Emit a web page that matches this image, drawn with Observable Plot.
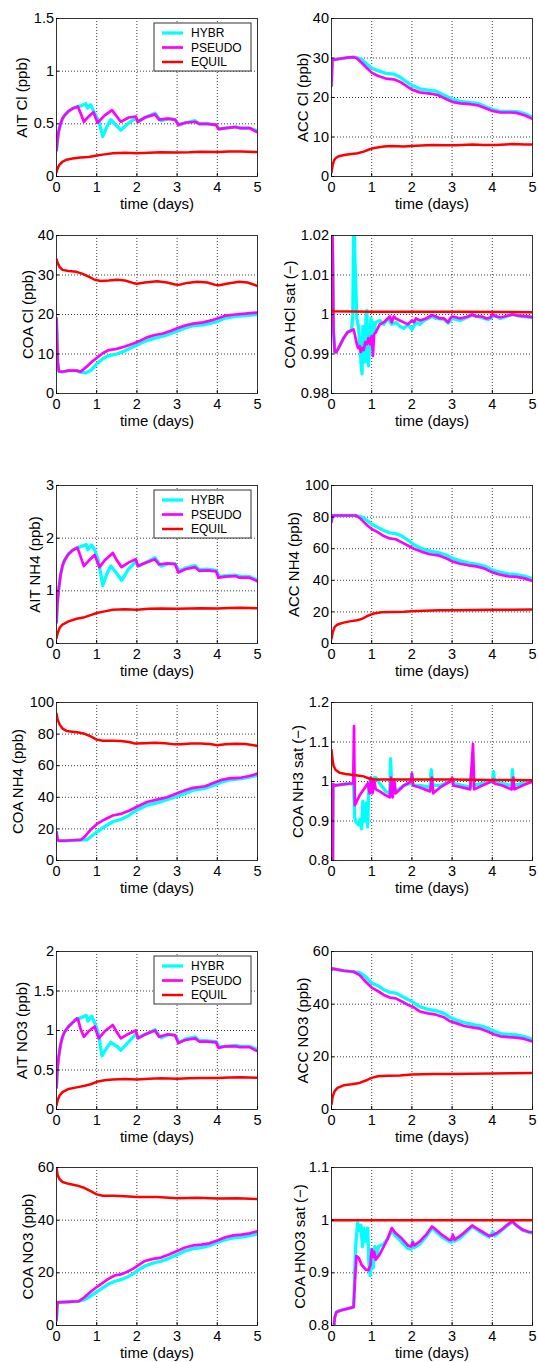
<!DOCTYPE html>
<html><head><meta charset="utf-8">
<script src="https://cdn.jsdelivr.net/npm/d3@7"></script>
<script src="https://cdn.jsdelivr.net/npm/@observablehq/plot@0.6"></script>
<style>
html,body{margin:0;padding:0;background:#fff;}
#wrap{position:relative;width:538px;height:1362px;overflow:hidden;background:#fff;}
#wrap > div.panel{position:absolute;}
#wrap > svg.legend{position:absolute;}
</style></head>
<body><div id="wrap"></div>
<script>
// ---------- series names / ticks ----------
const seriesNames = ["HYBR", "PSEUDO", "EQUIL"];
const timeTicks = [0, 1, 2, 3, 4, 5];

// ---------- AIT Cl (ppb) ----------
const aitClTicks = [0, 0.5, 1, 1.5];
const aitClHybr = [[0,0.25],[0.02,0.33],[0.05,0.42],[0.1,0.5],[0.15,0.55],[0.2,0.58],[0.3,0.62],[0.4,0.645],[0.5,0.66],[0.6,0.67],[0.73,0.69],[0.77,0.65],[0.85,0.68],[0.95,0.6],[1.05,0.53],[1.15,0.38],[1.25,0.47],[1.35,0.54],[1.5,0.48],[1.6,0.44],[1.8,0.51],[1.97,0.555],[2.03,0.52],[2.2,0.56],[2.45,0.6],[2.6,0.53],[2.8,0.55],[2.95,0.54],[3.05,0.49],[3.2,0.51],[3.45,0.53],[3.55,0.5],[3.75,0.5],[3.97,0.49],[4.05,0.45],[4.2,0.46],[4.45,0.47],[4.6,0.46],[4.8,0.46],[4.95,0.44],[5,0.43]];
const aitClPseudo = [[0,0.25],[0.02,0.33],[0.05,0.42],[0.1,0.5],[0.15,0.55],[0.2,0.58],[0.3,0.62],[0.4,0.645],[0.5,0.66],[0.53,0.665],[0.6,0.6],[0.68,0.52],[0.8,0.57],[0.92,0.61],[1.02,0.51],[1.2,0.58],[1.38,0.63],[1.5,0.57],[1.6,0.52],[1.8,0.56],[1.97,0.57],[2.02,0.52],[2.2,0.56],[2.45,0.59],[2.55,0.54],[2.75,0.55],[2.95,0.54],[3.03,0.49],[3.2,0.51],[3.45,0.52],[3.55,0.5],[3.75,0.5],[3.97,0.49],[4.03,0.45],[4.2,0.46],[4.45,0.47],[4.55,0.46],[4.8,0.46],[4.95,0.43],[5,0.42]];
const aitClEquil = [[0,0.04],[0.03,0.08],[0.07,0.11],[0.15,0.14],[0.25,0.16],[0.4,0.17],[0.6,0.18],[0.8,0.185],[1.0,0.2],[1.2,0.21],[1.4,0.22],[1.7,0.225],[2.0,0.22],[2.3,0.225],[2.6,0.23],[3.0,0.228],[3.3,0.23],[3.6,0.235],[4.0,0.232],[4.3,0.237],[4.6,0.238],[5,0.232]];

// ---------- ACC Cl (ppb) ----------
const accClTicks = [0, 10, 20, 30, 40];
const accClHybr = [[0,23],[0.02,29.5],[0.2,29.8],[0.4,30.1],[0.55,30.2],[0.62,30.1],[0.75,29.6],[0.9,28.3],[1.0,27.4],[1.15,26.8],[1.35,26.1],[1.55,25.9],[1.7,25.2],[1.85,24.1],[2.0,23.1],[2.2,22.2],[2.45,21.8],[2.6,21.6],[2.8,20.6],[3.0,19.6],[3.2,19],[3.45,18.7],[3.65,18.5],[3.85,17.6],[4.0,17],[4.2,16.5],[4.45,16.5],[4.6,16.4],[4.8,15.9],[5,15.1]];
const accClPseudo = [[0,23],[0.02,29.5],[0.2,29.8],[0.4,30.1],[0.55,30.2],[0.62,30],[0.75,28.8],[0.9,27.3],[1.0,26.3],[1.15,25.5],[1.35,24.8],[1.55,24.6],[1.7,24],[1.85,23],[2.0,22],[2.2,21.3],[2.45,21],[2.65,20.6],[2.85,19.6],[3.0,18.9],[3.2,18.5],[3.45,18.3],[3.65,18],[3.85,17.2],[4.0,16.6],[4.2,16.2],[4.45,16.2],[4.6,16.1],[4.8,15.5],[5,14.6]];
const accClEquil = [[0,1],[0.03,3],[0.07,4.2],[0.12,4.8],[0.2,5.2],[0.35,5.5],[0.5,5.7],[0.65,5.9],[0.8,6.3],[0.95,6.9],[1.1,7.3],[1.3,7.6],[1.5,7.7],[1.8,7.6],[2.1,7.8],[2.5,8.0],[2.8,7.9],[3.1,7.9],[3.5,8.1],[3.8,8.0],[4.1,8.0],[4.5,8.2],[4.8,8.1],[5,8.1]];

// ---------- COA Cl (ppb) ----------
const coaClTicks = [0, 10, 20, 30, 40];
const coaClHybr = [[0,19],[0.03,8],[0.06,5.6],[0.15,5.5],[0.3,5.8],[0.5,5.8],[0.6,5.4],[0.72,5.2],[0.85,5.8],[1.0,7.5],[1.15,8.8],[1.3,9.6],[1.5,10],[1.7,10.8],[1.9,11.8],[2.05,12.5],[2.25,13.4],[2.45,14],[2.65,14.5],[2.85,15.2],[3.0,15.8],[3.2,16.6],[3.4,17.2],[3.65,17.4],[3.85,17.8],[4.0,18.2],[4.2,19.1],[4.45,19.5],[4.7,19.7],[5,20]];
const coaClPseudo = [[0,19],[0.03,8],[0.06,5.6],[0.15,5.5],[0.3,5.8],[0.5,5.8],[0.6,5.5],[0.75,6.8],[0.9,8.2],[1.0,9],[1.15,10.2],[1.3,11],[1.5,11.3],[1.7,11.9],[1.9,12.6],[2.05,13.2],[2.25,14.2],[2.45,14.8],[2.65,15.2],[2.85,15.9],[3.0,16.5],[3.2,17.2],[3.4,17.7],[3.65,18],[3.85,18.5],[4.0,19],[4.2,19.7],[4.45,20],[4.7,20.2],[5,20.5]];
const coaClEquil = [[0,34],[0.03,33],[0.08,32],[0.15,31.3],[0.3,31],[0.5,30.8],[0.65,30.3],[0.8,29.6],[0.95,28.8],[1.1,28.5],[1.3,28.6],[1.5,28.8],[1.7,28.6],[1.9,28],[2.0,27.8],[2.2,28.1],[2.5,28.4],[2.75,28.1],[2.95,27.6],[3.05,27.5],[3.25,28],[3.5,28.3],[3.75,28.1],[3.95,27.5],[4.05,27.4],[4.3,27.9],[4.55,28.3],[4.75,28.1],[4.9,27.6],[5,27.2]];

// ---------- COA HCl sat (-) ----------
const coaHclTicks = [0.98, 0.99, 1, 1.01, 1.02];
const coaHclHybr = [[0,1.03],[0.03,1.016],[0.05,0.996],[0.08,0.9905],[0.12,0.9905],[0.2,0.992],[0.3,0.994],[0.4,0.9955],[0.5,0.996],[0.53,1.0],[0.56,1.03],[0.58,1.015],[0.61,1.005],[0.63,0.999],[0.67,0.997],[0.7,0.993],[0.74,0.987],[0.76,0.985],[0.78,0.997],[0.8,0.991],[0.83,0.988],[0.86,1.0],[0.88,1.001],[0.9,0.989],[0.92,0.987],[0.95,0.993],[0.98,0.999],[1.0,0.994],[1.03,0.998],[1.06,0.996],[1.1,0.998],[1.2,0.9985],[1.3,0.9975],[1.4,0.999],[1.5,0.9975],[1.6,0.998],[1.7,0.997],[1.8,0.9965],[1.9,0.9975],[2.0,0.9962],[2.1,0.998],[2.2,0.9975],[2.3,0.9985],[2.5,0.9995],[2.6,0.999],[2.8,0.9988],[2.9,0.9978],[3.0,0.999],[3.2,0.9985],[3.5,0.9998],[3.7,0.9993],[3.9,0.9987],[4.05,0.9998],[4.2,0.999],[4.5,1.0],[4.7,0.9995],[5,0.9993]];
const coaHclPseudo = [[0,1.03],[0.03,1.016],[0.05,0.996],[0.08,0.9905],[0.12,0.9905],[0.2,0.992],[0.3,0.994],[0.4,0.9955],[0.5,0.996],[0.55,0.9962],[0.6,0.994],[0.62,0.993],[0.66,0.9915],[0.7,0.992],[0.73,0.9905],[0.76,0.9915],[0.8,0.991],[0.84,0.993],[0.88,0.9925],[0.92,0.994],[0.96,0.9925],[1.0,0.9945],[1.03,0.9895],[1.06,0.995],[1.1,0.9955],[1.2,0.9975],[1.3,0.998],[1.4,0.999],[1.45,0.9995],[1.5,0.998],[1.55,0.9995],[1.6,0.999],[1.7,0.9985],[1.8,0.998],[1.9,0.9975],[2.0,0.9985],[2.05,0.998],[2.1,0.999],[2.2,0.9985],[2.35,0.999],[2.5,0.9998],[2.6,0.9995],[2.7,0.999],[2.8,0.999],[2.9,0.998],[2.95,0.999],[3.0,0.9995],[3.1,0.9993],[3.2,0.999],[3.4,0.9995],[3.5,1.0],[3.6,0.9995],[3.75,0.9995],[3.85,0.999],[3.95,0.9992],[4.0,1.0],[4.1,0.9995],[4.2,0.9993],[4.3,0.9995],[4.5,1.0],[4.6,0.9998],[4.8,0.9996],[5,0.9993]];
const coaHclEquil = [[0,1.0012],[0.05,1.0008],[1,1.0007],[3,1.0007],[5,1.0006]];

// ---------- AIT NH4 (ppb) ----------
const aitNh4Ticks = [0, 1, 2, 3];
const aitNh4Hybr = [[0,0.4],[0.02,0.75],[0.05,1.0],[0.1,1.3],[0.15,1.48],[0.2,1.58],[0.3,1.7],[0.4,1.77],[0.52,1.82],[0.6,1.84],[0.74,1.88],[0.78,1.78],[0.87,1.87],[0.95,1.78],[1.05,1.55],[1.15,1.1],[1.25,1.32],[1.35,1.47],[1.5,1.33],[1.62,1.2],[1.8,1.42],[1.97,1.55],[2.03,1.47],[2.2,1.53],[2.45,1.63],[2.6,1.47],[2.8,1.52],[2.95,1.51],[3.05,1.38],[3.2,1.43],[3.45,1.48],[3.55,1.4],[3.75,1.41],[3.97,1.39],[4.05,1.27],[4.2,1.29],[4.45,1.3],[4.6,1.27],[4.8,1.27],[4.95,1.22],[5,1.2]];
const aitNh4Pseudo = [[0,0.4],[0.02,0.75],[0.05,1.0],[0.1,1.3],[0.15,1.48],[0.2,1.58],[0.3,1.7],[0.4,1.77],[0.52,1.82],[0.6,1.65],[0.68,1.47],[0.8,1.57],[0.95,1.68],[1.07,1.45],[1.2,1.58],[1.4,1.72],[1.5,1.58],[1.62,1.45],[1.8,1.54],[1.97,1.6],[2.03,1.47],[2.2,1.53],[2.45,1.6],[2.55,1.5],[2.75,1.52],[2.95,1.51],[3.03,1.35],[3.2,1.41],[3.45,1.45],[3.55,1.38],[3.75,1.39],[3.97,1.37],[4.03,1.25],[4.2,1.27],[4.45,1.28],[4.55,1.25],[4.8,1.25],[4.95,1.2],[5,1.18]];
const aitNh4Equil = [[0,0.1],[0.03,0.2],[0.08,0.3],[0.15,0.36],[0.3,0.42],[0.5,0.47],[0.7,0.5],[0.85,0.54],[1.0,0.58],[1.2,0.61],[1.4,0.64],[1.7,0.65],[2.0,0.64],[2.3,0.66],[2.6,0.665],[3.0,0.66],[3.3,0.665],[3.6,0.67],[4.0,0.665],[4.3,0.675],[4.6,0.68],[5,0.67]];

// ---------- ACC NH4 (ppb) ----------
const accNh4Ticks = [0, 20, 40, 60, 80, 100];
const accNh4Hybr = [[0,77],[0.02,81],[0.3,81],[0.6,81],[0.7,80.5],[0.8,79.5],[0.9,77.5],[1.0,75.5],[1.15,73.5],[1.3,71.5],[1.45,70],[1.6,69.5],[1.75,68],[1.9,65.5],[2.05,62.5],[2.25,60],[2.45,58.5],[2.65,57.5],[2.85,56],[3.0,54],[3.2,52.3],[3.4,51],[3.6,50.3],[3.8,49],[4.0,46.5],[4.2,45],[4.4,44],[4.6,43.6],[4.8,42.6],[5,41]];
const accNh4Pseudo = [[0,77],[0.02,81],[0.3,81],[0.6,81],[0.7,79.5],[0.8,77],[0.9,74.5],[1.0,72.5],[1.15,70.5],[1.3,68],[1.45,66.5],[1.6,66],[1.75,64],[1.9,62],[2.05,60],[2.25,58],[2.45,56.5],[2.65,55.8],[2.85,54],[3.0,52],[3.2,50.5],[3.4,49.5],[3.6,48.8],[3.8,47.5],[4.0,45],[4.2,43.5],[4.4,42.5],[4.6,42.2],[4.8,41.2],[5,39.5]];
const accNh4Equil = [[0,3],[0.03,7],[0.08,10.5],[0.15,12],[0.3,13.2],[0.45,14],[0.6,14.5],[0.75,15.5],[0.9,17.5],[1.05,19],[1.25,19.8],[1.5,20],[1.8,20.1],[2.0,20.4],[2.3,20.8],[2.7,21],[3.0,21],[3.5,21.2],[4.0,21.3],[4.5,21.4],[5,21.5]];

// ---------- COA NH4 (ppb) ----------
const coaNh4Ticks = [0, 20, 40, 60, 80, 100];
const coaNh4Hybr = [[0,18],[0.02,14],[0.05,12.5],[0.2,12.5],[0.4,12.8],[0.6,13],[0.75,13],[0.9,16],[1.0,18],[1.2,21.5],[1.4,24.5],[1.6,26],[1.8,28.5],[2.0,32],[2.25,35],[2.5,36.5],[2.75,38.5],[3.0,40.7],[3.2,42.5],[3.4,44.5],[3.7,45.7],[3.9,47.5],[4.1,49.5],[4.3,51],[4.6,51.8],[4.8,52.7],[5,54]];
const coaNh4Pseudo = [[0,18],[0.02,14],[0.05,12.5],[0.2,12.5],[0.4,12.8],[0.6,13],[0.7,15],[0.85,19.5],[1.0,23],[1.2,26],[1.4,28.5],[1.6,29.5],[1.8,31.5],[2.0,34],[2.25,37],[2.5,38.5],[2.75,40],[3.0,42.5],[3.2,44.5],[3.4,46],[3.7,47],[3.9,49],[4.1,51],[4.3,52],[4.6,52.5],[4.8,53.5],[5,55]];
const coaNh4Equil = [[0,93],[0.03,89],[0.08,86],[0.15,83.5],[0.25,82],[0.4,81.5],[0.55,81],[0.7,80.2],[0.85,78.5],[1.0,76.5],[1.15,75.8],[1.4,75.8],[1.6,75.6],[1.8,75],[1.95,74],[2.2,74.2],[2.45,74.5],[2.7,74.2],[2.95,73.5],[3.1,73.6],[3.35,74],[3.6,74],[3.85,73.6],[4.0,73],[4.2,73.6],[4.45,73.9],[4.7,73.7],[4.9,73],[5,72.5]];

// ---------- COA NH3 sat (-) ----------
const coaNh3Ticks = [0.8, 0.9, 1, 1.1, 1.2];
const coaNh3Hybr = [[0,0.75],[0.03,0.75],[0.04,0.993],[0.1,0.99],[0.3,0.993],[0.5,0.995],[0.55,0.99],[0.58,0.905],[0.63,0.895],[0.68,0.89],[0.72,0.905],[0.75,0.88],[0.78,0.95],[0.82,0.9],[0.86,0.945],[0.9,0.885],[0.93,0.99],[0.97,1.01],[1.02,0.985],[1.06,1.01],[1.1,1.01],[1.2,0.995],[1.35,0.975],[1.45,0.97],[1.47,1.058],[1.5,0.975],[1.55,0.97],[1.6,0.975],[1.8,0.99],[1.98,0.995],[2.0,1.02],[2.03,0.99],[2.2,0.99],[2.45,0.985],[2.48,1.03],[2.52,0.99],[2.7,0.99],[2.95,1.0],[3.0,1.005],[3.03,0.995],[3.25,0.99],[3.45,0.985],[3.49,1.033],[3.52,0.99],[3.75,0.995],[4.0,1.0],[4.03,1.025],[4.06,1.0],[4.25,0.995],[4.48,0.99],[4.5,1.03],[4.53,0.99],[4.75,0.995],[5,1.0]];
const coaNh3Pseudo = [[0,0.75],[0.03,0.75],[0.04,0.993],[0.1,0.99],[0.3,0.993],[0.5,0.995],[0.54,0.995],[0.56,1.14],[0.58,0.94],[0.63,0.95],[0.7,0.965],[0.8,0.98],[0.9,0.995],[0.95,0.97],[0.98,1.01],[1.02,0.97],[1.06,1.005],[1.1,0.98],[1.2,0.975],[1.35,0.965],[1.45,0.96],[1.48,1.01],[1.52,0.96],[1.56,1.005],[1.6,0.97],[1.8,0.99],[1.98,1.0],[2.0,1.02],[2.03,0.99],[2.2,0.985],[2.45,0.975],[2.5,1.01],[2.53,0.97],[2.7,0.985],[2.95,1.0],[3.0,1.01],[3.03,0.99],[3.25,0.985],[3.45,0.98],[3.52,1.095],[3.55,0.98],[3.75,0.99],[3.98,1.0],[4.02,1.005],[4.05,0.995],[4.25,0.99],[4.48,0.98],[4.52,1.01],[4.55,0.98],[4.75,0.99],[5,1.0]];
const coaNh3Equil = [[0,1.08],[0.02,1.06],[0.05,1.04],[0.1,1.03],[0.2,1.022],[0.35,1.019],[0.6,1.016],[0.8,1.013],[0.95,1.007],[1.1,1.005],[2,1.005],[3,1.005],[4,1.004],[5,1.003]];

// ---------- AIT NO3 (ppb) ----------
const aitNo3Ticks = [0, 0.5, 1, 1.5, 2];
const aitNo3Hybr = [[0,0.28],[0.02,0.5],[0.05,0.65],[0.1,0.82],[0.15,0.92],[0.2,0.98],[0.3,1.05],[0.4,1.1],[0.5,1.15],[0.53,1.15],[0.6,1.16],[0.74,1.19],[0.78,1.12],[0.87,1.18],[0.95,1.1],[1.05,0.95],[1.13,0.68],[1.25,0.78],[1.35,0.85],[1.5,0.8],[1.6,0.75],[1.8,0.86],[1.97,0.95],[2.03,0.91],[2.2,0.95],[2.45,1.01],[2.6,0.91],[2.8,0.95],[2.95,0.94],[3.05,0.85],[3.2,0.89],[3.45,0.92],[3.55,0.87],[3.75,0.87],[3.97,0.86],[4.05,0.79],[4.2,0.8],[4.45,0.81],[4.6,0.8],[4.8,0.8],[4.95,0.77],[5,0.76]];
const aitNo3Pseudo = [[0,0.28],[0.02,0.5],[0.05,0.65],[0.1,0.82],[0.15,0.92],[0.2,0.98],[0.3,1.05],[0.4,1.1],[0.5,1.15],[0.53,1.15],[0.6,1.02],[0.68,0.92],[0.8,0.99],[0.95,1.05],[1.05,0.9],[1.2,0.99],[1.4,1.07],[1.5,0.98],[1.6,0.9],[1.8,0.96],[1.97,1.0],[2.03,0.9],[2.2,0.95],[2.45,1.0],[2.55,0.92],[2.75,0.95],[2.95,0.94],[3.03,0.84],[3.2,0.88],[3.45,0.9],[3.55,0.86],[3.75,0.86],[3.97,0.85],[4.03,0.78],[4.2,0.8],[4.45,0.8],[4.55,0.79],[4.8,0.79],[4.95,0.75],[5,0.74]];
const aitNo3Equil = [[0,0.05],[0.03,0.12],[0.08,0.18],[0.15,0.22],[0.3,0.26],[0.5,0.28],[0.7,0.3],[0.85,0.32],[1.0,0.35],[1.2,0.37],[1.4,0.38],[1.7,0.385],[2.0,0.38],[2.3,0.39],[2.6,0.395],[3.0,0.39],[3.3,0.395],[3.6,0.4],[4.0,0.398],[4.3,0.405],[4.6,0.408],[5,0.402]];

// ---------- ACC NO3 (ppb) ----------
const accNo3Ticks = [0, 20, 40, 60];
const accNo3Hybr = [[0,53],[0.02,53.5],[0.3,52.7],[0.55,52.3],[0.7,52],[0.85,50.5],[1.0,48],[1.15,47],[1.3,45.5],[1.45,44.5],[1.6,44.2],[1.75,43],[1.9,41.8],[2.05,40.5],[2.2,39],[2.4,38],[2.6,37.5],[2.8,36.5],[2.95,35],[3.1,34],[3.3,33],[3.5,32.3],[3.7,31.8],[3.9,30.8],[4.05,29.7],[4.2,28.8],[4.4,28.5],[4.6,28.3],[4.8,27.7],[5,26.6]];
const accNo3Pseudo = [[0,53],[0.02,53.5],[0.3,52.7],[0.55,52.3],[0.7,51],[0.85,48.5],[1.0,46.3],[1.15,45],[1.3,43.5],[1.45,42.5],[1.6,42.2],[1.75,41],[1.9,39.8],[2.05,38.8],[2.2,37.2],[2.4,36.5],[2.6,36],[2.8,35],[2.95,33.5],[3.1,32.8],[3.3,31.7],[3.5,31.2],[3.7,30.7],[3.9,29.5],[4.05,28.5],[4.2,27.8],[4.4,27.5],[4.6,27.3],[4.8,26.8],[5,25.8]];
const accNo3Equil = [[0,2],[0.03,5],[0.08,7],[0.15,8.2],[0.3,9.2],[0.5,9.6],[0.7,10.1],[0.85,11],[1.0,12],[1.15,12.6],[1.4,12.8],[1.7,12.9],[2.0,13.3],[2.5,13.5],[3,13.5],[3.5,13.6],[4,13.7],[4.5,13.8],[5,13.9]];

// ---------- COA NO3 (ppb) ----------
const coaNo3Ticks = [0, 20, 40, 60];
const coaNo3Hybr = [[0,2],[0.02,8.8],[0.3,9],[0.55,9.2],[0.7,9.8],[0.85,11.2],[1.0,12.8],[1.15,14.3],[1.3,15.8],[1.45,16.8],[1.6,17.4],[1.75,18.3],[1.9,19.6],[2.05,21.2],[2.2,22.6],[2.4,23.7],[2.6,24.4],[2.8,25.5],[3.0,26.9],[3.2,28.3],[3.4,29.2],[3.6,29.6],[3.8,30.3],[4.0,31.5],[4.2,32.6],[4.4,33.3],[4.6,33.6],[4.8,34.1],[5,34.8]];
const coaNo3Pseudo = [[0,2],[0.02,8.8],[0.3,9],[0.55,9.2],[0.7,10.8],[0.85,12.8],[1.0,14.6],[1.15,16.2],[1.3,17.8],[1.45,19],[1.6,19.4],[1.75,20.3],[1.9,21.5],[2.05,23],[2.2,24.5],[2.4,25.3],[2.6,25.8],[2.8,27],[3.0,28.3],[3.2,29.6],[3.4,30.4],[3.6,30.7],[3.8,31.2],[4.0,32.3],[4.2,33.5],[4.4,34.2],[4.6,34.5],[4.8,35],[5,35.8]];
const coaNo3Equil = [[0,60],[0.03,57],[0.08,55.5],[0.15,54.5],[0.3,53.8],[0.5,53.2],[0.7,52.2],[0.85,51],[1.0,49.8],[1.15,49.3],[1.4,49.3],[1.7,49.1],[2.0,48.8],[2.5,48.8],[2.8,48.5],[3.0,48.3],[3.5,48.5],[4.0,48.2],[4.5,48.3],[5,48]];

// ---------- COA HNO3 sat (-) ----------
const coaHno3Ticks = [0.8, 0.9, 1, 1.1];
const coaHno3Hybr = [[0.05,0.79],[0.08,0.815],[0.12,0.825],[0.2,0.828],[0.35,0.831],[0.5,0.834],[0.55,0.835],[0.6,0.95],[0.65,0.995],[0.7,0.98],[0.73,0.99],[0.77,0.95],[0.8,0.985],[0.84,0.96],[0.9,0.985],[0.93,0.92],[0.96,0.895],[1.0,0.925],[1.04,0.91],[1.08,0.95],[1.12,0.93],[1.17,0.95],[1.3,0.955],[1.4,0.965],[1.5,0.98],[1.6,0.97],[1.75,0.958],[1.9,0.946],[1.98,0.945],[2.02,0.96],[2.06,0.948],[2.2,0.955],[2.35,0.968],[2.5,0.985],[2.6,0.978],[2.75,0.968],[2.92,0.96],[2.98,0.958],[3.02,0.966],[3.06,0.96],[3.2,0.966],[3.35,0.977],[3.5,0.988],[3.6,0.983],[3.75,0.975],[3.92,0.968],[4.02,0.978],[4.06,0.97],[4.25,0.982],[4.35,0.988],[4.5,0.997],[4.6,0.99],[4.75,0.981],[4.9,0.977],[5,0.976]];
const coaHno3Pseudo = [[0.05,0.79],[0.08,0.815],[0.12,0.825],[0.2,0.828],[0.35,0.831],[0.5,0.834],[0.55,0.835],[0.58,0.88],[0.62,0.932],[0.68,0.928],[0.75,0.915],[0.85,0.906],[0.92,0.905],[0.97,0.915],[1.0,0.945],[1.03,0.93],[1.06,0.94],[1.1,0.925],[1.2,0.935],[1.3,0.95],[1.4,0.965],[1.5,0.985],[1.6,0.975],[1.75,0.965],[1.9,0.952],[1.98,0.95],[2.02,0.958],[2.06,0.952],[2.2,0.96],[2.35,0.972],[2.5,0.988],[2.6,0.982],[2.75,0.972],[2.92,0.963],[2.98,0.962],[3.02,0.972],[3.06,0.963],[3.2,0.97],[3.35,0.98],[3.5,0.99],[3.6,0.985],[3.75,0.978],[3.92,0.97],[4.02,0.972],[4.1,0.975],[4.25,0.983],[4.35,0.99],[4.5,0.998],[4.6,0.99],[4.75,0.982],[4.9,0.978],[5,0.977]];
const coaHno3Equil = [[0,1.0],[5,1.0]];

// ---------- panel table (built from the arrays above) ----------
const panels = [
  {label: "AIT Cl (ppb)",      ticks: aitClTicks,   series: [aitClHybr, aitClPseudo, aitClEquil], legend: true},
  {label: "ACC Cl (ppb)",      ticks: accClTicks,   series: [accClHybr, accClPseudo, accClEquil]},
  {label: "COA Cl (ppb)",      ticks: coaClTicks,   series: [coaClHybr, coaClPseudo, coaClEquil]},
  {label: "COA HCl sat (\u2212)", ticks: coaHclTicks, series: [coaHclHybr, coaHclPseudo, coaHclEquil]},
  {label: "AIT NH4 (ppb)",     ticks: aitNh4Ticks,  series: [aitNh4Hybr, aitNh4Pseudo, aitNh4Equil], legend: true},
  {label: "ACC NH4 (ppb)",     ticks: accNh4Ticks,  series: [accNh4Hybr, accNh4Pseudo, accNh4Equil]},
  {label: "COA NH4 (ppb)",     ticks: coaNh4Ticks,  series: [coaNh4Hybr, coaNh4Pseudo, coaNh4Equil]},
  {label: "COA NH3 sat (\u2212)", ticks: coaNh3Ticks, series: [coaNh3Hybr, coaNh3Pseudo, coaNh3Equil]},
  {label: "AIT NO3 (ppb)",     ticks: aitNo3Ticks,  series: [aitNo3Hybr, aitNo3Pseudo, aitNo3Equil], legend: true},
  {label: "ACC NO3 (ppb)",     ticks: accNo3Ticks,  series: [accNo3Hybr, accNo3Pseudo, accNo3Equil]},
  {label: "COA NO3 (ppb)",     ticks: coaNo3Ticks,  series: [coaNo3Hybr, coaNo3Pseudo, coaNo3Equil]},
  {label: "COA HNO3 sat (\u2212)", ticks: coaHno3Ticks, series: [coaHno3Hybr, coaHno3Pseudo, coaHno3Equil]}
];

// ---------- layout & style ----------
const FONT = '"Liberation Sans", Arial, Helvetica, sans-serif';
const colors = ["#00ffff", "#ff00ff", "#ff0000"];
const widths = [3.3, 2.7, 2.5];
const rowTops = [18, 235, 485, 702, 951, 1167];
const frameH = 158;
const ylabelCenter = [34, 28, 28, 41, 21, 37, 38, 33, 34, 28, 28, 31];
const mT = 10, mB = 42;

const wrap = document.getElementById("wrap");

panels.forEach((p, i) => {
  const col = i % 2, row = Math.floor(i / 2);
  const left = col === 0 ? 0 : 270;
  const mL = col === 0 ? 56 : 61;
  const mR = col === 0 ? 11 : 6;
  const W = 268;
  const domain = [p.ticks[0], p.ticks[p.ticks.length - 1]];
  const grid = {stroke: "#000", strokeOpacity: 0.85, strokeWidth: 0.9, strokeDasharray: "1,2"};
  const chart = Plot.plot({
    width: W, height: frameH + mT + mB,
    marginLeft: mL, marginRight: mR, marginTop: mT, marginBottom: mB,
    style: {fontFamily: FONT, fontSize: "14.5px", color: "#000", background: "transparent", overflow: "visible"},
    x: {domain: [0, 5]},
    y: {domain},
    marks: [
      Plot.gridX(timeTicks, grid),
      Plot.gridY(p.ticks, grid),
      ...p.series.map((s, k) => Plot.line(s, {x: d => d[0], y: d => d[1], stroke: colors[k], strokeWidth: widths[k], clip: true})),
      Plot.frame({stroke: "#333", strokeWidth: 1}),
      Plot.axisX(timeTicks, {tickSize: -3, tickPadding: 8, tickFormat: d => String(d), label: "time (days)", labelAnchor: "center", labelOffset: 32, labelArrow: "none", fontSize: 14.5}),
      Plot.axisY(p.ticks, {tickSize: -3, tickPadding: 5.5, tickFormat: d => String(d), label: p.label, labelAnchor: "center", labelOffset: ylabelCenter[i] + 6, labelArrow: "none", fontSize: 14.5})
    ]
  });
  d3.select(chart).selectAll('g[aria-label="x-axis label"], g[aria-label="y-axis label"]').attr("font-size", 15);
  const div = document.createElement("div");
  div.className = "panel";
  div.style.left = left + "px";
  div.style.top = (rowTops[row] - mT) + "px";
  div.appendChild(chart);
  wrap.appendChild(div);

  if (p.legend) {
    const bx = left + mL + 98, by = rowTops[row] + 5, bw = 97, bh = 48;
    const svg = d3.select(wrap).append("svg").attr("class", "legend")
      .attr("width", bw + 2).attr("height", bh + 2)
      .style("left", (bx - 1) + "px").style("top", (by - 1) + "px");
    svg.append("rect").attr("x", 1).attr("y", 1).attr("width", bw).attr("height", bh)
      .attr("fill", "#fff").attr("stroke", "#333").attr("stroke-width", 1);
    seriesNames.forEach((name, k) => {
      const yy = 1 + 10 + k * 14.5;
      svg.append("line").attr("x1", 9).attr("x2", 30).attr("y1", yy).attr("y2", yy)
        .attr("stroke", colors[k]).attr("stroke-width", widths[k]);
      svg.append("text").attr("x", 38).attr("y", yy).attr("dy", "0.35em")
        .attr("font-family", FONT).attr("font-size", 12).attr("fill", "#000").text(name);
    });
  }
});
</script>
</body></html>
